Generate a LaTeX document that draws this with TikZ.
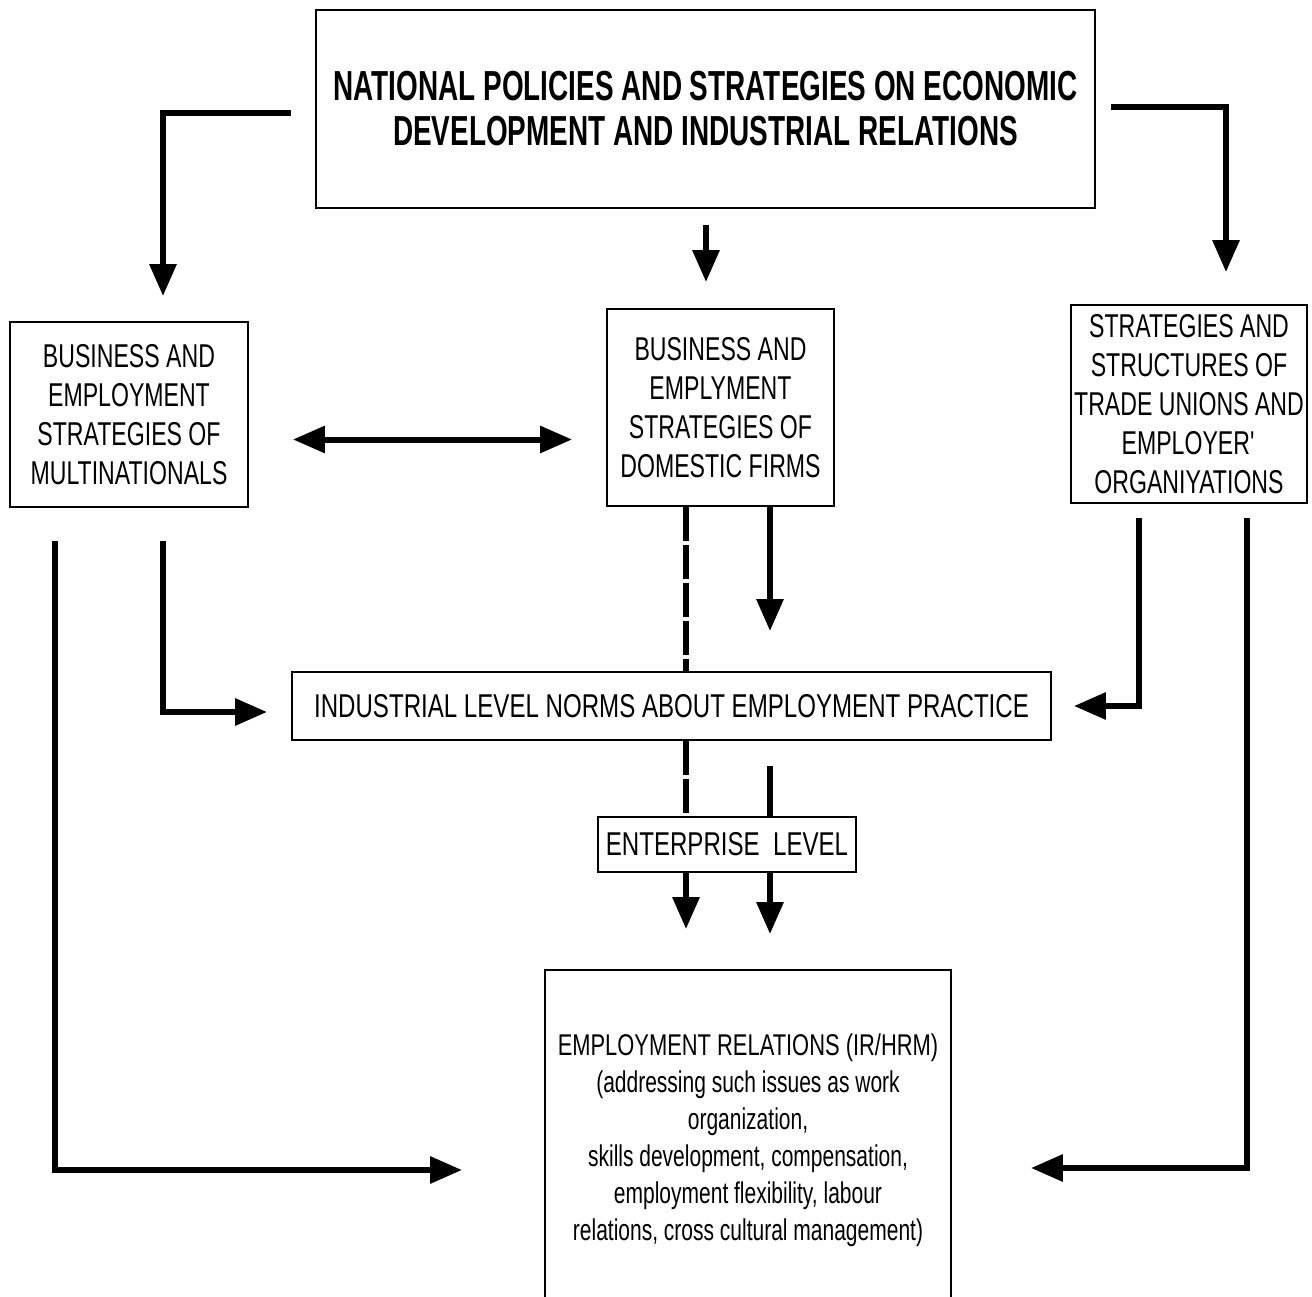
\documentclass[tikz,border=0pt]{standalone}
\usepackage{fontspec}
\setmainfont{Liberation Sans}[FakeStretch=0.70]
\newfontfamily\titlefont{Liberation Sans}[FakeStretch=0.665]
\newfontfamily\widefont{Liberation Sans}[FakeStretch=0.73]
\usetikzlibrary{arrows.meta}

\begin{document}
\begin{tikzpicture}[x=1pt, y=-1pt,
    box/.style={draw, line width=1.8pt, align=center, inner sep=0pt,
                font=\fontsize{33}{39}\selectfont},
    arr/.style={line width=6pt, -{Triangle[length=32pt,width=26pt]}},
    dline/.style={line width=6pt, dash pattern=on 34pt off 4pt}]
            \clip (0,0) rectangle (1312,1297);
            \fill[white] (0,0) rectangle (1312,1297);
            % Boxes:
            \node [box, minimum width=779pt, minimum height=198pt,
                   font=\titlefont\bfseries\fontsize{42}{45}\selectfont]
                (top) at (705.5,109) {NATIONAL POLICIES AND STRATEGIES ON ECONOMIC\\DEVELOPMENT AND INDUSTRIAL RELATIONS};
            \node [box, minimum width=238pt, minimum height=185pt]
                (multi) at (129,414.5) {BUSINESS AND\\EMPLOYMENT\\STRATEGIES OF\\MULTINATIONALS};
            \node [box, minimum width=227pt, minimum height=197pt]
                (domestic) at (720.5,407.5) {BUSINESS AND\\EMPLYMENT\\STRATEGIES OF\\DOMESTIC FIRMS};
            \node [box, minimum width=236pt, minimum height=198pt]
                (unions) at (1189,404) {STRATEGIES AND\\STRUCTURES OF\\TRADE UNIONS AND\\EMPLOYER\textquotesingle\\ORGANIYATIONS};
            \node [box, minimum width=759pt, minimum height=68pt,
                   font=\widefont\fontsize{33}{39}\selectfont]
                (ind) at (671.5,706) {INDUSTRIAL LEVEL NORMS ABOUT EMPLOYMENT PRACTICE};
            \node [box, minimum width=258pt, minimum height=55pt,
                   font=\widefont\fontsize{33}{39}\selectfont]
                (ent) at (727,844.5) {ENTERPRISE\ \ LEVEL};
            \node [box, minimum width=406pt, minimum height=340pt,
                   font=\fontsize{30}{37}\selectfont]
                (emp) at (748,1140) {{\widefont EMPLOYMENT RELATIONS (IR/HRM)}\\(addressing such issues as work\\organization,\\skills development, compensation,\\employment flexibility, labour\\relations, cross cultural management)};

            % From the national level:
            \draw [arr, shorten <=24pt, shorten >=25pt] ([yshift=-4pt]top.west) -| ([xshift=34pt]multi.north);
            \draw [arr, shorten <=16pt, shorten >=26pt] ([xshift=0.5pt]top.south) -- ([xshift=0.5pt]top.south |- domestic.north);
            \draw [arr, shorten <=15pt, shorten >=32pt] ([yshift=2pt]top.east) -| ([xshift=37pt]unions.north);

            % Between the firms:
            \draw [arr, {Triangle[length=32pt,width=26pt]}-{Triangle[length=32pt,width=26pt]}, shorten <=44pt, shorten >=34pt]
                ([yshift=-25pt]multi.east) -- ([yshift=-25pt]multi.east -| domestic.west);

            % Multinationals:
            \draw [arr, shorten <=33pt, shorten >=82pt] ([xshift=-74pt]multi.south) |- ([yshift=-30pt]emp.west);
            \draw [arr, shorten <=33pt, shorten >=24pt] ([xshift=34pt]multi.south) |- ([yshift=-6pt]ind.west);

            % Trade unions:
            \draw [arr, shorten <=14pt, shorten >=22pt] ([xshift=-50pt]unions.south) |- (ind.east);
            \draw [arr, shorten <=14pt, shorten >=79pt] ([xshift=58pt]unions.south) |- ([yshift=-28pt]emp.east);

            % Domestic firms:
            \draw [dline] ([xshift=-34.5pt]domestic.south) -- ([xshift=-34.5pt]domestic.south |- ind.north);
            \draw [dline] ([xshift=-34.5pt]domestic.south |- ind.south) -- ([xshift=-34.5pt]domestic.south |- ent.north);
            \draw [arr, shorten >=40pt] ([xshift=49.5pt]domestic.south) -- ([xshift=49.5pt]domestic.south |- ind.north);
            \draw [line width=6pt, shorten <=25pt] ([xshift=49.5pt]domestic.south |- ind.south) -- ([xshift=49.5pt]domestic.south |- ent.north);
            \draw [arr, shorten >=40pt] ([xshift=-41pt]ent.south) -- ([xshift=-41pt]ent.south |- emp.north);
            \draw [arr, shorten >=35pt] ([xshift=43pt]ent.south) -- ([xshift=43pt]ent.south |- emp.north);
\end{tikzpicture}
\end{document}
